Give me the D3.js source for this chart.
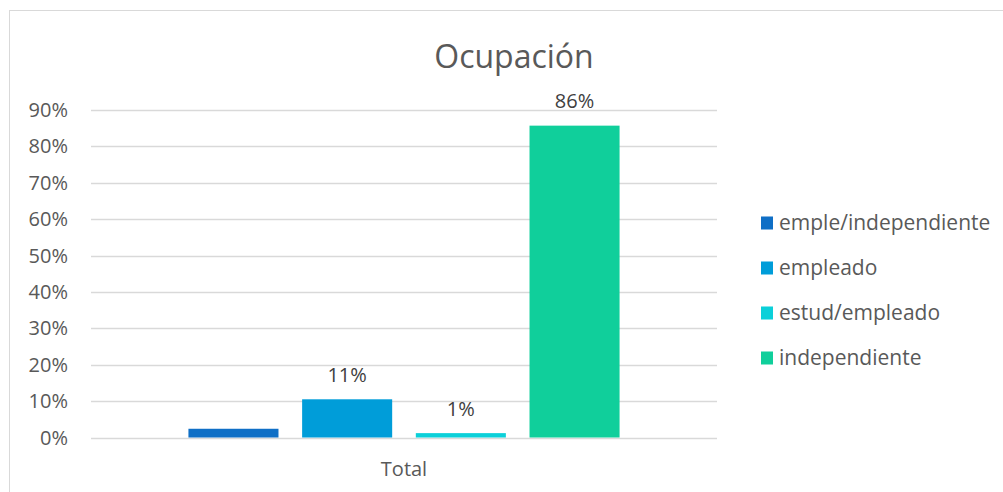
<!doctype html>
<html>
<head>
	<meta charset="utf-8">
	<script src="https://d3js.org/d3.v7.min.js"></script>
</head>
<body style="margin: 0; background-color: white;">
	<div id="my_dataviz"></div>
	<script>
		// data
		var categories = ["Total"];
		var series = ["emple/independiente", "empleado", "estud/empleado", "independiente"];
		var values = [0.024, 0.105, 0.012, 0.857];
		var labels = ["", "11%", "1%", "86%"];
		var colors = ["#0F6FC6", "#009DD9", "#0BD0D9", "#10CF9B"];
		var yTicks = [0, 0.1, 0.2, 0.3, 0.4, 0.5, 0.6, 0.7, 0.8, 0.9];

		var W = 1003, H = 492;
		var plot = {left: 91, right: 717, top: 110, bottom: 437.5};
		var font = "'Open Sans', sans-serif";

		var svg = d3.select("#my_dataviz")
		  .append("svg")
			.attr("width", W)
			.attr("height", H)
			.style("display", "block");

		// chart border
		svg.append("rect")
			.attr("x", 9.5).attr("y", 10.5)
			.attr("width", W + 20).attr("height", H + 20)
			.attr("fill", "none")
			.attr("stroke", "#d9d9d9");

		// scales
		var y = d3.scaleLinear().domain([0, 0.9]).range([plot.bottom, plot.top]);
		var x0 = d3.scaleBand().domain(categories).range([plot.left, plot.right]).paddingInner(0).paddingOuter(0.226);
		var x1 = d3.scaleBand().domain(series).range([0, x0.bandwidth()]).paddingInner(0.208);

		// gridlines
		svg.append("g")
			.selectAll("line")
			.data(yTicks)
			.enter()
			.append("line")
			  .attr("x1", plot.left).attr("x2", plot.right)
			  .attr("y1", function(d) { return Math.round(y(d)) + 0.5; })
			  .attr("y2", function(d) { return Math.round(y(d)) + 0.5; })
			  .attr("stroke", "#d9d9d9")
			  .attr("stroke-width", 1.5);

		// y axis labels
		svg.append("g")
			.selectAll("text")
			.data(yTicks)
			.enter()
			.append("text")
			  .attr("x", 68)
			  .attr("y", function(d) { return y(d); })
			  .attr("dy", "0.35em")
			  .attr("text-anchor", "end")
			  .style("font-family", font)
			  .style("font-size", "20px")
			  .style("fill", "#595959")
			  .text(d3.format(".0%"));

		// bars
		var group = svg.append("g")
			.attr("transform", "translate(" + x0("Total") + ",0)");

		group.selectAll("rect")
			.data(series)
			.enter()
			.append("rect")
			  .attr("x", function(d) { return x1(d); })
			  .attr("width", x1.bandwidth())
			  .attr("y", function(d, i) { return y(values[i]); })
			  .attr("height", function(d, i) { return y(0) - y(values[i]); })
			  .attr("fill", function(d, i) { return colors[i]; });

		// data labels
		group.selectAll("text")
			.data(series)
			.enter()
			.append("text")
			  .attr("x", function(d) { return x1(d) + x1.bandwidth() / 2; })
			  .attr("y", function(d, i) { return y(values[i]) - 17.5; })
			  .attr("text-anchor", "middle")
			  .style("font-family", font)
			  .style("font-size", "20px")
			  .style("fill", "#404040")
			  .text(function(d, i) { return labels[i]; });

		// category label
		svg.append("text")
			.attr("x", x0("Total") + x0.bandwidth() / 2)
			.attr("y", 476)
			.attr("text-anchor", "middle")
			.style("font-family", font)
			.style("font-size", "20px")
			.style("fill", "#595959")
			.text(categories[0]);

		// title
		svg.append("text")
			.attr("x", 514)
			.attr("y", 68)
			.attr("text-anchor", "middle")
			.style("font-family", font)
			.style("font-size", "32px")
			.style("fill", "#595959")
			.text("Ocupación");

		// legend
		var legend = svg.append("g")
			.selectAll("g")
			.data(series)
			.enter()
			.append("g")
			  .attr("transform", function(d, i) { return "translate(761," + (223 + i * 45) + ")"; });

		legend.append("rect")
			.attr("x", 0).attr("y", -6.5)
			.attr("width", 12).attr("height", 13)
			.attr("fill", function(d, i) { return colors[i]; });

		legend.append("text")
			.attr("x", 18)
			.attr("dy", "0.35em")
			.style("font-family", font)
			.style("font-size", "21px")
			.style("fill", "#595959")
			.text(function(d) { return d; });
	</script>
</body>
</html>
